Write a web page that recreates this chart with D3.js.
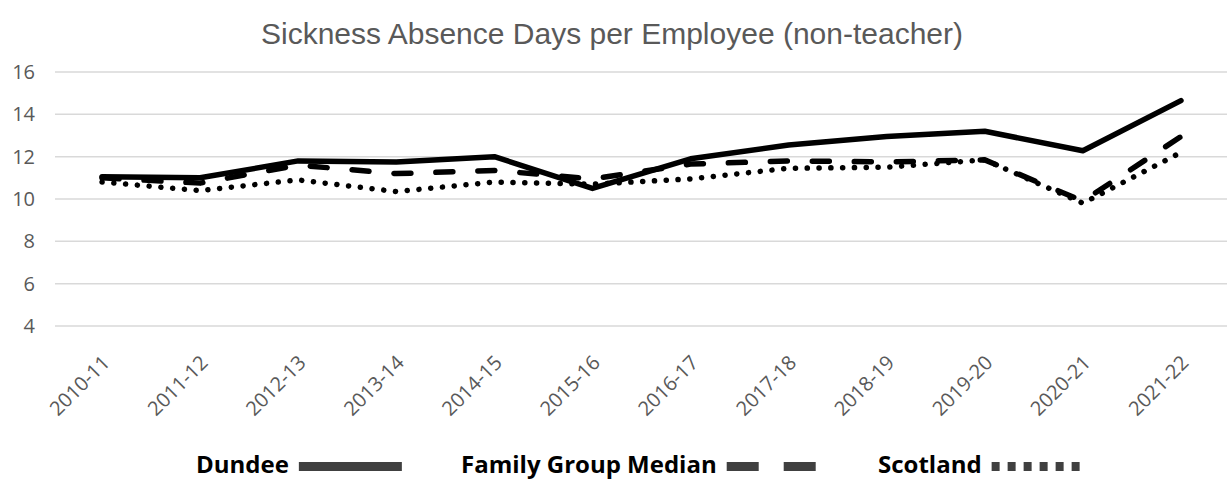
<!DOCTYPE html>
<html>
<head>
<meta charset="utf-8">
<script src="https://cdn.jsdelivr.net/npm/d3@7"></script>
<style>
  body { margin: 0; background: #fff; }
  svg text { font-family: "Open Sans", sans-serif; }
</style>
</head>
<body>
<svg id="chart" width="1227" height="479"></svg>
<script>
const years = ['2010-11', '2011-12', '2012-13', '2013-14', '2014-15', '2015-16', '2016-17', '2017-18', '2018-19', '2019-20', '2020-21', '2021-22'];
const dundee = [11.05, 11.0, 11.8, 11.75, 12.0, 10.5, 11.9, 12.55, 12.95, 13.2, 12.28, 14.65];
const familyMedian = [11.0, 10.75, 11.6, 11.2, 11.35, 10.95, 11.65, 11.8, 11.75, 11.85, 9.9, 12.95];
const scotland = [10.8, 10.4, 10.9, 10.35, 10.8, 10.7, 10.95, 11.45, 11.5, 11.85, 9.8, 12.2];
const yTicks = [4, 6, 8, 10, 12, 14, 16];

const svg = d3.select('#chart');
const margin = { top: 72, left: 53, right: 0, bottom: 153 };
const width = 1227, height = 479;

const x = d3.scaleBand().domain(years).range([margin.left, width + 3]);
const y = d3.scaleLinear().domain([4, 16]).range([height - margin.bottom, margin.top]);

// title
svg.append('text')
  .attr('x', 612).attr('y', 44)
  .attr('text-anchor', 'middle')
  .style('font-family', '"Liberation Sans", Arial, sans-serif')
  .style('font-size', '30px')
  .attr('fill', '#595959')
  .text('Sickness Absence Days per Employee (non-teacher)');

// gridlines
svg.append('g').selectAll('line').data(yTicks).join('line')
  .attr('x1', 55).attr('x2', width)
  .attr('y1', d => y(d)).attr('y2', d => y(d))
  .attr('stroke', '#d9d9d9').attr('stroke-width', 1.5);

// y axis labels
const yAxis = svg.append('g').attr('transform', `translate(35,0)`)
  .call(d3.axisLeft(y).tickValues(yTicks).tickSize(0).tickPadding(0));
yAxis.select('.domain').remove();
yAxis.selectAll('text')
  .style('font-family', '"Open Sans", sans-serif')
  .style('font-size', '20px')
  .attr('fill', '#595959');

// x axis labels
const xAxis = svg.append('g').attr('transform', `translate(0,${y(4)})`)
  .call(d3.axisBottom(x).tickSize(0).tickPadding(0));
xAxis.select('.domain').remove();
xAxis.selectAll('text')
  .style('font-family', '"Open Sans", sans-serif')
  .style('font-size', '20px')
  .attr('fill', '#595959')
  .attr('text-anchor', 'end')
  .attr('dy', 0)
  .attr('transform', 'translate(9,38) rotate(-45)');

const line = d3.line()
  .x((d, i) => x(years[i]) + x.bandwidth() / 2)
  .y(d => y(d));

svg.append('path').datum(dundee)
  .attr('d', line).attr('fill', 'none')
  .attr('stroke', '#000').attr('stroke-width', 5.5)
  .attr('stroke-linecap', 'round').attr('stroke-linejoin', 'round');

svg.append('path').datum(familyMedian)
  .attr('d', line).attr('fill', 'none')
  .attr('stroke', '#000').attr('stroke-width', 5.5)
  .attr('stroke-dasharray', '17,25')
  .attr('stroke-linecap', 'round').attr('stroke-linejoin', 'round');

svg.append('path').datum(scotland)
  .attr('d', line).attr('fill', 'none')
  .attr('stroke', '#000').attr('stroke-width', 5.5)
  .attr('stroke-dasharray', '0.1,11.7')
  .attr('stroke-linecap', 'round').attr('stroke-linejoin', 'round');

// legend
const legendItems = [
  { name: 'Dundee', x: 196, type: 'solid' },
  { name: 'Family Group Median', x: 461, type: 'dash' },
  { name: 'Scotland', x: 878, type: 'dot' }
];
const legend = svg.append('g');
legendItems.forEach(item => {
  const t = legend.append('text')
    .attr('x', item.x).attr('y', 473)
    .style('font-family', '"Open Sans", sans-serif')
    .style('font-size', '24px').style('font-weight', 700)
    .attr('fill', '#000')
    .text(item.name);
  const sx = item.x + t.node().getComputedTextLength() + 10;
  let rects = [];
  if (item.type === 'solid') rects = [[0, 103]];
  if (item.type === 'dash') rects = [[0, 32], [57, 32]];
  if (item.type === 'dot') rects = d3.range(6).map(i => [i * 16, 8]);
  legend.selectAll(null).data(rects).join('rect')
    .attr('x', d => sx + d[0]).attr('y', 462)
    .attr('width', d => d[1]).attr('height', 9)
    .attr('fill', '#404040');
});
</script>
</body>
</html>
